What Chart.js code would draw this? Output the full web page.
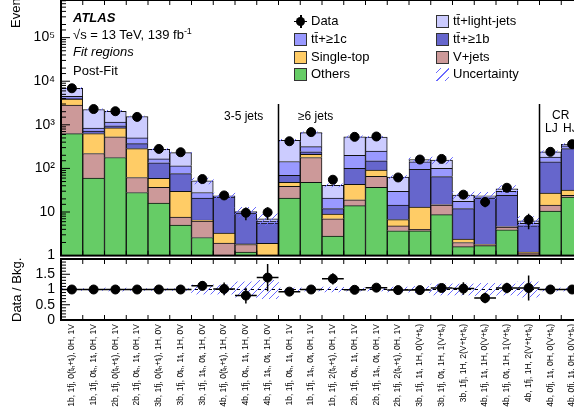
<!DOCTYPE html>
<html>
<head>
<meta charset="utf-8">
<script src="https://cdn.jsdelivr.net/npm/chart.js@4.4.1/dist/chart.umd.min.js"></script>
<style>
  html, body { margin: 0; padding: 0; background: #fff; overflow: hidden; }
  body { width: 574px; height: 419px; position: relative; font-family: "Liberation Sans", Arial, sans-serif; color: #000; }
  #mainWrap { position: absolute; left: 0; top: -20px; }
  #ratioWrap { position: absolute; left: 0; top: 239px; }
  .t { position: absolute; font-size: 13px; line-height: 16px; white-space: nowrap; }
  .box { position: absolute; width: 11px; height: 11px; border: 1px solid #333; }
  .rot { position: absolute; font-size: 13px; line-height: 16px; white-space: nowrap; transform-origin: left top; transform: rotate(-90deg); }
  sup { font-size: 9px; vertical-align: 5px; line-height: 0; }
</style>
</head>
<body>
<div id="mainWrap"><canvas id="main" width="590" height="290"></canvas></div>
<div id="ratioWrap"><canvas id="ratio" width="590" height="180"></canvas></div>

<div class="rot" style="left:8px; top:28px;">Events</div>
<div class="rot" style="left:9px; top:322px;">Data / Bkg.</div>

<div class="t" style="left:73px; top:10px; font-weight:bold; font-style:italic;">ATLAS</div>
<div class="t" style="left:73px; top:27px;">√s = 13 TeV, 139 fb<sup>-1</sup></div>
<div class="t" style="left:73px; top:44px; font-style:italic;">Fit regions</div>
<div class="t" style="left:73px; top:63px;">Post-Fit</div>

<div class="t" style="left:224px; top:108px; font-size:12px;">3-5 jets</div>
<div class="t" style="left:298px; top:108px; font-size:12px;">≥6 jets</div>
<div class="t" style="left:552px; top:107px; font-size:12px;">CR</div>
<div class="t" style="left:545px; top:120px; font-size:12px;">LJ</div>
<div class="t" style="left:563px; top:120px; font-size:12px;">HJ</div>

<div id="legend"></div>

<script>
// bin labels (region names)
const regions = [
  "1b, 1fj, 0(tₕ+tₗ), 0H, 1V",
  "1b, 1fj, 0tₕ, 1tₗ, 0H, 1V",
  "2b, 1fj, 0(tₕ+tₗ), 0H, 1V",
  "2b, 1fj, 0tₕ, 1tₗ, 0H, 1V",
  "3b, 1fj, 0(tₕ+tₗ), 1H, 0V",
  "3b, 1fj, 0tₕ, 1tₗ, 1H, 0V",
  "3b, 1fj, 1tₕ, 0tₗ, 1H, 0V",
  "4b, 1fj, 0(tₕ+tₗ), 1H, 0V",
  "4b, 1fj, 0tₕ, 1tₗ, 1H, 0V",
  "4b, 1fj, 1tₕ, 0tₗ, 1H, 0V",
  "1b, 1fj, 0tₕ, 1tₗ, 0H, 1V",
  "1b, 1fj, 1tₕ, 0tₗ, 0H, 1V",
  "1b, 1fj, 2(tₕ+tₗ), 0H, 1V",
  "2b, 1fj, 0tₕ, 1tₗ, 0H, 1V",
  "2b, 1fj, 1tₕ, 0tₗ, 0H, 1V",
  "2b, 1fj, 2(tₕ+tₗ), 0H, 1V",
  "3b, 1fj, 1tₗ, 1H, 0(V+tₕ)",
  "3b, 1fj, 0tₗ, 1H, 1(V+tₕ)",
  "3b, 1fj, 1H, 2(V+tₗ+tₕ)",
  "4b, 1fj, 1tₗ, 1H, 0(V+tₕ)",
  "4b, 1fj, 0tₗ, 1H, 1(V+tₕ)",
  "4b, 1fj, 1H, 2(V+tₗ+tₕ)",
  "4b, 0fj, 1tₗ, 0H, 0(V+tₕ)",
  "4b, 0fj, 1tₗ, 0H, 0(V+tₕ)"
];

// post-fit background yields, stacked bottom to top
const others  = [630, 60, 178, 28, 16, 5, 2.6, 0.8, 1.2, 0.6, 21, 48, 2.8, 14, 37, 3.7, 3.7, 8.7, 1.6, 1.7, 3.9, 0.9, 10.5, 22];
const vjets   = [2210, 160, 352, 34, 21, 2.6, 3.6, 1.15, 0.6, 0.2, 18, 130, 4.2, 5, 29, 1.1, 0.3, 5.8, 0.4, 0.05, 0.6, 0.25, 4, 2];
const singleTop = [1060, 410, 320, 223, 22, 22.4, 0.3, 1.35, 0.05, 1.1, 9, 32, 2, 24, 25, 1.9, 9, 0.1, 0.4, 0.05, 0.1, 0.05, 12.5, 8];
const ttb     = [200, 90, 100, 85, 76, 46, 14.5, 18.7, 7.65, 3.7, 21, 30, 3, 57, 59, 7.8, 82, 50.4, 9.6, 19.2, 19.4, 3.6, 115, 253];
const ttc     = [400, 120, 200, 130, 30, 39, 7, 1, 0.3, 0.6, 75, 75, 9, 100, 100, 15.5, 47, 35, 5.5, 1, 6, 0.7, 41, 45];
const ttlight = [2400, 1410, 900, 1050, 110, 115, 24, 0.5, 0.4, 0.8, 296, 345, 20, 330, 270, 33, 18, 55, 7, 1.5, 4, 0.8, 57, 25];

const dataEvents = [6900, 2300, 2050, 1520, 280, 235, 57, 24, 9.6, 9.8, 420, 680, 55, 530, 540, 62, 160, 165, 25, 17, 36, 6.6, 240, 360];
const dataRatio  = [1, 1, 1, 1, 1, 1, 1.12, 1.02, 0.8, 1.39, 0.93, 1.0, 1.35, 0.99, 1.06, 0.98, 0.98, 1.05, 1.03, 0.72, 1.05, 1.05, 1.0, 1.0];
// relative total uncertainty of the background
const relUnc = [0.03, 0.03, 0.05, 0.03, 0.03, 0.03, 0.15, 0.15, 0.25, 0.3, 0.05, 0.05, 0.08, 0.05, 0.05, 0.08, 0.1, 0.18, 0.18, 0.2, 0.18, 0.25, 0.05, 0.05];

const logTickLabels = ["1", "10", "10²", "10³", "10⁴", "10⁵"];
const ratioTickLabels = { 0: "0", 0.5: "0.5", 1: "1", 1.5: "1.5" };

const colors = {
  others: "#66cc66", vjets: "#cc9999", single: "#ffcc66",
  ttb: "#6666cc", ttc: "#9999ff", light: "#ccccff", unc: "#6a6aff"
};

const legendItems = [
  { label: "Data", kind: "data", col: 0, row: 0 },
  { label: "tt̄+≥1c", color: colors.ttc, col: 0, row: 1 },
  { label: "Single-top", color: colors.single, col: 0, row: 2 },
  { label: "Others", color: colors.others, col: 0, row: 3 },
  { label: "tt̄+light-jets", color: colors.light, col: 1, row: 0 },
  { label: "tt̄+≥1b", color: colors.ttb, col: 1, row: 1 },
  { label: "V+jets", color: colors.vjets, col: 1, row: 2 },
  { label: "Uncertainty", kind: "unc", col: 1, row: 3 }
];

Chart.defaults.font.family = "'Liberation Sans', Arial, sans-serif";
Chart.defaults.font.size = 13;
Chart.defaults.color = "#000";

const Y_MAX = 7.3e5;
const DIVIDER_TOP = 3000;

function hatch(canvasId) {
  const c = document.createElement("canvas");
  c.width = 7; c.height = 7;
  const g = c.getContext("2d");
  g.strokeStyle = colors.unc;
  g.lineWidth = 1;
  g.beginPath();
  g.moveTo(0, 7); g.lineTo(7, 0);
  g.moveTo(-1, 1); g.lineTo(1, -1);
  g.moveTo(6, 8); g.lineTo(8, 6);
  g.stroke();
  return document.getElementById(canvasId).getContext("2d").createPattern(c, "repeat");
}

const totals = others.map((v, i) => v + vjets[i] + singleTop[i] + ttb[i] + ttc[i] + ttlight[i]);

function bar(label, data, color) {
  return { type: "bar", label, data, backgroundColor: color, borderColor: "#111", borderWidth: 1,
    grouped: false, barPercentage: 1, categoryPercentage: 1, order: 2 };
}

// frame, inward ticks, error bars, dividers
const decor = {
  id: "decor",
  beforeDatasetsDraw(chart, args, o) {
    if (o.panel !== "ratio") return;
    const { ctx, chartArea: a, scales: { y } } = chart;
    const py = y.getPixelForValue(1);
    ctx.save();
    ctx.setLineDash([4, 3]);
    ctx.lineWidth = 1;
    ctx.strokeStyle = "#000";
    ctx.beginPath(); ctx.moveTo(a.left, py); ctx.lineTo(a.right, py); ctx.stroke();
    ctx.restore();
  },
  afterDatasetsDraw(chart, args, o) {
    const { ctx, chartArea: a, scales: { x, y } } = chart;
    const half = (x.getPixelForValue(1) - x.getPixelForValue(0)) / 2;
    const idx = chart.data.datasets.findIndex(d => d.label === "Data");
    const meta = chart.getDatasetMeta(idx);
    const vals = chart.data.datasets[idx].data;

    ctx.save();
    ctx.beginPath(); ctx.rect(a.left, a.top, a.right - a.left, a.bottom - a.top); ctx.clip();
    ctx.strokeStyle = "#000";
    ctx.lineWidth = 1.5;
    meta.data.forEach((p, i) => {
      const v = vals[i];
      const err = o.panel === "main" ? Math.sqrt(dataEvents[i]) : v / Math.sqrt(dataEvents[i]);
      const lo = v - err > 0 ? v - err : y.min * 0.5;
      ctx.beginPath();
      ctx.moveTo(p.x, y.getPixelForValue(v + err));
      ctx.lineTo(p.x, y.getPixelForValue(lo));
      if (o.panel === "ratio") {
        ctx.moveTo(p.x - half, p.y);
        ctx.lineTo(p.x + half, p.y);
      }
      ctx.stroke();
    });

    if (o.panel === "main") {
      ctx.lineWidth = 1.5;
      [9, 21].forEach(i => {
        const px = x.getPixelForValue(i) + half;
        ctx.beginPath();
        ctx.moveTo(px, y.getPixelForValue(DIVIDER_TOP));
        ctx.lineTo(px, a.bottom);
        ctx.stroke();
      });
    }
    ctx.restore();

    // ticks
    ctx.save();
    ctx.strokeStyle = "#000";
    ctx.lineWidth = 1;
    ctx.beginPath();
    for (let i = 1; i < chart.data.labels.length; i++) {
      const px = x.getPixelForValue(i) - half;
      ctx.moveTo(px, a.top); ctx.lineTo(px, a.top + 5);
      ctx.moveTo(px, a.bottom); ctx.lineTo(px, a.bottom - 5);
    }
    if (o.panel === "main") {
      y.ticks.forEach(t => {
        const e = Math.log10(t.value);
        const major = Math.abs(e - Math.round(e)) < 1e-6;
        const py = y.getPixelForValue(t.value);
        ctx.moveTo(a.left, py); ctx.lineTo(a.left + (major ? 9 : 5), py);
      });
    } else {
      for (let k = 0; k <= 20; k++) {
        const v = k / 10;
        const py = y.getPixelForValue(v);
        ctx.moveTo(a.left, py); ctx.lineTo(a.left + (k % 5 === 0 ? 9 : 5), py);
      }
    }
    ctx.stroke();
    ctx.lineWidth = 2;
    ctx.strokeRect(a.left, a.top, a.right - a.left, a.bottom - a.top);
    ctx.restore();
  }
};

new Chart(document.getElementById("main"), {
  type: "bar",
  data: {
    labels: regions,
    datasets: [
      { type: "line", label: "Data", data: dataEvents, showLine: false, pointRadius: 4.5,
        pointBackgroundColor: "#000", pointBorderColor: "#000", order: 0 },
      { type: "bar", label: "Uncertainty", stack: "unc",
        data: totals.map((t, i) => [t * (1 - relUnc[i]), t * (1 + relUnc[i])]),
        backgroundColor: hatch("main"), borderWidth: 0, grouped: false,
        barPercentage: 1, categoryPercentage: 1, order: 1 },
      bar("Others", others, colors.others),
      bar("V+jets", vjets, colors.vjets),
      bar("Single-top", singleTop, colors.single),
      bar("ttbar+>=1b", ttb, colors.ttb),
      bar("ttbar+>=1c", ttc, colors.ttc),
      bar("ttbar+light-jets", ttlight, colors.light)
    ]
  },
  options: {
    responsive: false, animation: false, events: [],
    layout: { padding: { top: 20, bottom: 12, left: 0, right: 7 } },
    plugins: { legend: { display: false }, tooltip: { enabled: false }, decor: { panel: "main" } },
    scales: {
      x: { display: false, stacked: true },
      y: {
        type: "logarithmic", stacked: true, min: 1, max: Y_MAX,
        grid: { display: false, drawTicks: false }, border: { display: false },
        ticks: {
          padding: 6, font: { size: 14 }, autoSkip: false,
          callback: v => {
            const e = Math.log10(v);
            return Math.abs(e - Math.round(e)) < 1e-6 ? logTickLabels[Math.round(e)] : "";
          }
        },
        afterFit: s => { s.width = 61; }
      }
    }
  },
  plugins: [decor]
});

new Chart(document.getElementById("ratio"), {
  type: "bar",
  data: {
    labels: regions,
    datasets: [
      { type: "line", label: "Data", data: dataRatio, showLine: false, pointRadius: 4.5,
        pointBackgroundColor: "#000", pointBorderColor: "#000", order: 0 },
      { type: "bar", label: "Uncertainty",
        data: relUnc.map(u => [1 - u, 1 + u]),
        backgroundColor: hatch("ratio"), borderWidth: 0, grouped: false,
        barPercentage: 1, categoryPercentage: 1, order: 1 }
    ]
  },
  options: {
    responsive: false, animation: false, events: [],
    layout: { padding: { top: 20, bottom: 0, left: 0, right: 7 } },
    plugins: { legend: { display: false }, tooltip: { enabled: false }, decor: { panel: "ratio" } },
    scales: {
      x: {
        grid: { display: false, drawTicks: false }, border: { display: false },
        ticks: { autoSkip: false, maxRotation: 90, minRotation: 90, padding: 4, font: { size: 8.5 } },
        afterFit: s => { s.height = 99; }
      },
      y: {
        min: 0, max: 2, stacked: false,
        grid: { display: false, drawTicks: false }, border: { display: false },
        ticks: { stepSize: 0.5, autoSkip: false, padding: 6, font: { size: 14 }, callback: v => ratioTickLabels[v] ?? "" },
        afterFit: s => { s.width = 61; }
      }
    }
  },
  plugins: [decor]
});

// legend
const legend = document.getElementById("legend");
const colX = [294, 436];
const rowY = [21, 39, 57, 74];
legendItems.forEach(it => {
  const bx = colX[it.col], cy = rowY[it.row];
  let marker;
  if (it.kind === "data") {
    marker = `<div style="position:absolute;left:${bx}px;top:${cy - 6}px;width:13px;height:13px;">
      <div style="position:absolute;left:0;top:5.5px;width:13px;height:1.5px;background:#000;"></div>
      <div style="position:absolute;left:6px;top:0;width:1.5px;height:13px;background:#000;"></div>
      <div style="position:absolute;left:2px;top:2px;width:9px;height:9px;border-radius:50%;background:#000;"></div></div>`;
  } else if (it.kind === "unc") {
    marker = `<div style="position:absolute;left:${bx}px;top:${cy - 6}px;width:13px;height:13px;
      background:repeating-linear-gradient(135deg, transparent 0 3px, ${colors.unc} 3px 4px, transparent 4px 6px);"></div>`;
  } else {
    marker = `<div class="box" style="left:${bx}px;top:${cy - 6}px;background:${it.color};"></div>`;
  }
  legend.insertAdjacentHTML("beforeend", marker +
    `<div class="t" style="left:${bx + 17}px;top:${cy - 8}px;">${it.label}</div>`);
});
</script>
</body>
</html>
